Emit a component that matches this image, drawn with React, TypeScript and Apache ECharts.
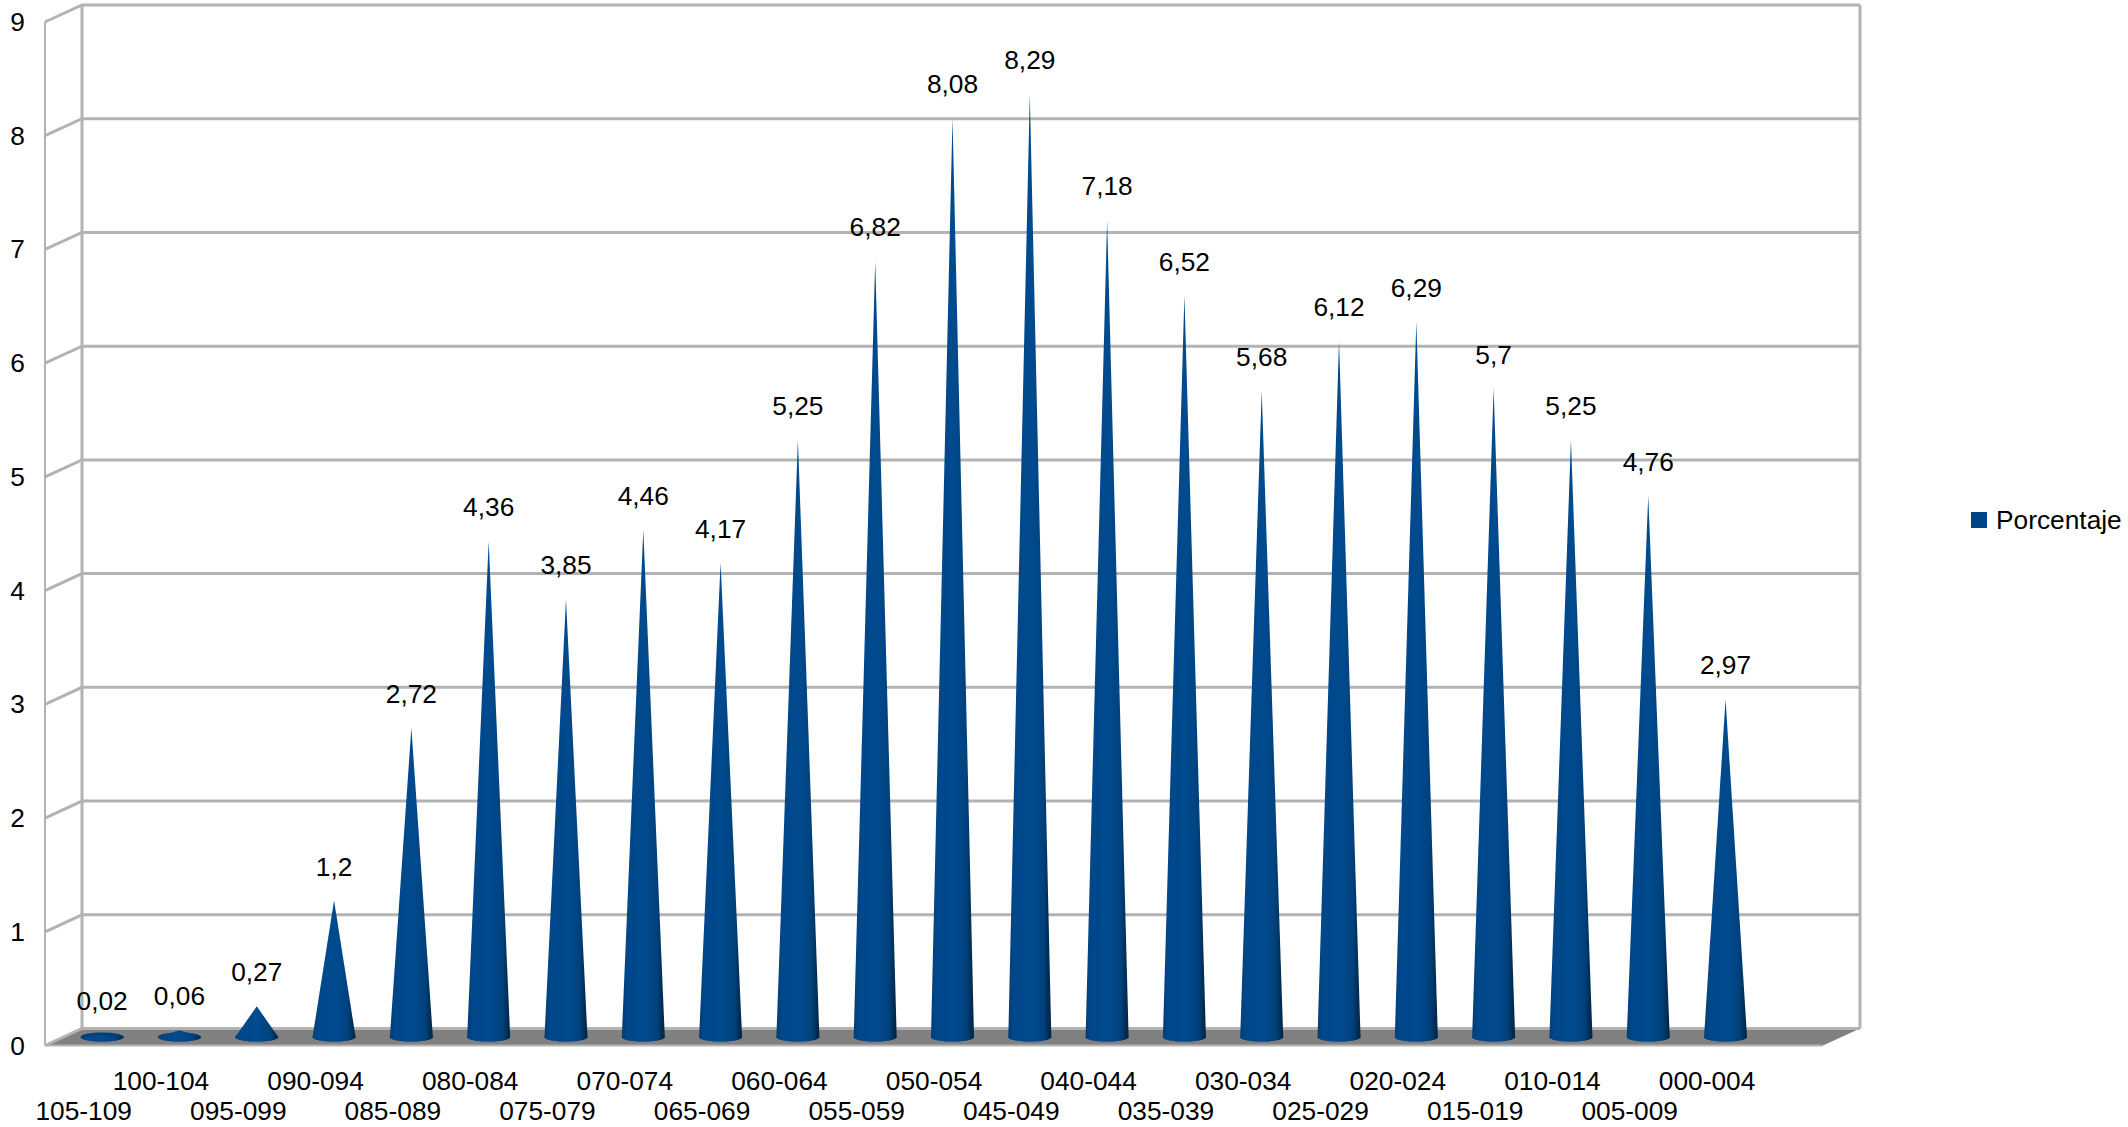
import React, { useEffect, useRef } from "react";
import * as echarts from "echarts";

const categories = [
  "105-109", "100-104", "095-099", "090-094", "085-089", "080-084", "075-079", "070-074",
  "065-069", "060-064", "055-059", "050-054", "045-049", "040-044", "035-039", "030-034",
  "025-029", "020-024", "015-019", "010-014", "005-009", "000-004",
];
const values = [
  0.02, 0.06, 0.27, 1.2, 2.72, 4.36, 3.85, 4.46, 4.17, 5.25, 6.82, 8.08, 8.29, 7.18, 6.52,
  5.68, 6.12, 6.29, 5.7, 5.25, 4.76, 2.97,
];
const yTicks = [0, 1, 2, 3, 4, 5, 6, 7, 8, 9];
const seriesName = "Porcentaje";

const FONT = "Liberation Sans";
const FONT_SIZE = 26.3;
const WALL = "#b3b3b3";
const BLUE = "#004586";
const DEPTH_X = 37;
const DEPTH_Y = 17;
const CONE_RX = 21.5;
const CONE_RY = 4.5;

const coneGradient = {
  type: "linear",
  x: 0,
  y: 0,
  x2: 1,
  y2: 0,
  colorStops: [
    { offset: 0, color: "#003d75" },
    { offset: 0.12, color: "#00478a" },
    { offset: 0.55, color: "#004a8e" },
    { offset: 0.82, color: "#00417c" },
    { offset: 1, color: "#002240" },
  ],
};

function renderWalls(params: any, api: any) {
  const v = api.value(0);
  const [, fy] = api.coord([0, v]);
  const leftX = params.coordSys.x;
  const rightX = leftX + params.coordSys.width;
  const children: any[] = [];
  if (params.dataIndex === 0) {
    children.push({
      type: "polygon",
      shape: {
        points: [
          [leftX, fy],
          [leftX + DEPTH_X, fy - DEPTH_Y],
          [rightX + DEPTH_X, fy - DEPTH_Y],
          [rightX, fy],
        ],
      },
      style: { fill: "#808080" },
    });
    children.push({
      type: "line",
      shape: { x1: leftX, y1: fy, x2: rightX, y2: fy },
      style: { stroke: WALL, lineWidth: 2 },
    });
    const top = params.coordSys.y;
    children.push({
      type: "line",
      shape: { x1: leftX, y1: top, x2: leftX, y2: fy },
      style: { stroke: WALL, lineWidth: 2 },
    });
    children.push({
      type: "line",
      shape: { x1: leftX + DEPTH_X, y1: top - DEPTH_Y, x2: leftX + DEPTH_X, y2: fy - DEPTH_Y },
      style: { stroke: WALL, lineWidth: 3 },
    });
    children.push({
      type: "line",
      shape: { x1: rightX + DEPTH_X, y1: top - DEPTH_Y, x2: rightX + DEPTH_X, y2: fy - DEPTH_Y },
      style: { stroke: WALL, lineWidth: 3 },
    });
  }
  children.push({
    type: "polyline",
    shape: {
      points: [
        [leftX, fy],
        [leftX + DEPTH_X, fy - DEPTH_Y],
        [rightX + DEPTH_X, fy - DEPTH_Y],
      ],
    },
    style: { stroke: WALL, lineWidth: 3, fill: "none" },
  });
  return { type: "group", children };
}

function renderCone(params: any, api: any) {
  const idx = api.value(0);
  const v = api.value(1);
  const [cx0, by0] = api.coord([idx, 0]);
  const [, ty0] = api.coord([idx, v]);
  const cx = cx0 + DEPTH_X / 2;
  const by = by0 - DEPTH_Y / 2;
  const ty = ty0 - DEPTH_Y / 2;
  const rx = CONE_RX;
  const ry = CONE_RY;
  const ellipsePath = `M${cx - rx} ${by}A${rx} ${ry} 0 1 0 ${cx + rx} ${by}A${rx} ${ry} 0 1 0 ${cx - rx} ${by}Z`;
  const conePath = `M${cx - rx} ${by}L${cx} ${ty}L${cx + rx} ${by}A${rx} ${ry} 0 0 1 ${cx - rx} ${by}Z`;
  return {
    type: "group",
    children: [
      { type: "path", shape: { pathData: ellipsePath, layout: "cover", x: cx - rx, y: by - ry, width: 2 * rx, height: 2 * ry }, style: { fill: "#003c75" } },
      {
        type: "path",
        shape: { pathData: conePath, layout: "cover", x: cx - rx, y: Math.min(ty, by), width: 2 * rx, height: by + ry - Math.min(ty, by) },
        style: { fill: coneGradient },
      },
      {
        type: "text",
        style: {
          x: cx,
          y: ty - 34,
          text: String(v).replace(".", ","),
          fill: "#000",
          font: `${FONT_SIZE}px "${FONT}"`,
          align: "center",
          verticalAlign: "middle",
        },
      },
    ],
  };
}

export default function App() {
  const ref = useRef<HTMLDivElement>(null);
  useEffect(() => {
    document.body.style.margin = "0";
    const chart = echarts.init(ref.current!, null, { renderer: "svg" });
    chart.setOption({
      animation: false,
      backgroundColor: "#ffffff",
      textStyle: { fontFamily: FONT },
      legend: {
        data: [seriesName],
        left: 1966,
        top: 502,
        icon: "rect",
        itemWidth: 16,
        itemHeight: 16,
        itemStyle: { color: BLUE },
        textStyle: { color: "#000", fontSize: FONT_SIZE, fontFamily: FONT, padding: [0, 0, 0, 4] },
      },
      grid: { left: 45, top: 22, width: 1778, height: 1023.5, containLabel: false },
      xAxis: {
        type: "category",
        data: [...categories, ""],
        axisLine: { show: false },
        axisTick: { show: false },
        splitLine: { show: false },
        axisLabel: {
          interval: 0,
          margin: 20,
          color: "#000",
          fontSize: FONT_SIZE,
          fontFamily: FONT,
          lineHeight: 30,
          hideOverlap: false,
          formatter: (val: string, i: number) => (i % 2 === 0 ? `\n${val}` : val),
        },
      },
      yAxis: {
        type: "value",
        min: 0,
        max: 9,
        interval: 1,
        axisLine: { show: false },
        axisTick: { show: false },
        splitLine: { show: false },
        axisLabel: { margin: 20, color: "#000", fontSize: FONT_SIZE, fontFamily: FONT },
      },
      series: [
        {
          type: "custom",
          name: "walls",
          data: yTicks.map((t) => [t]),
          encode: { y: 0 },
          renderItem: renderWalls,
          silent: true,
          clip: false,
          z: 1,
        },
        {
          type: "custom",
          name: seriesName,
          itemStyle: { color: BLUE },
          data: values.map((v, i) => [i, v]),
          encode: { x: 0, y: 1 },
          renderItem: renderCone,
          clip: false,
          z: 2,
        },
      ],
    });
    return () => chart.dispose();
  }, []);
  return <div ref={ref} style={{ position: "absolute", left: 0, top: 0, width: 2128, height: 1127 }} />;
}
